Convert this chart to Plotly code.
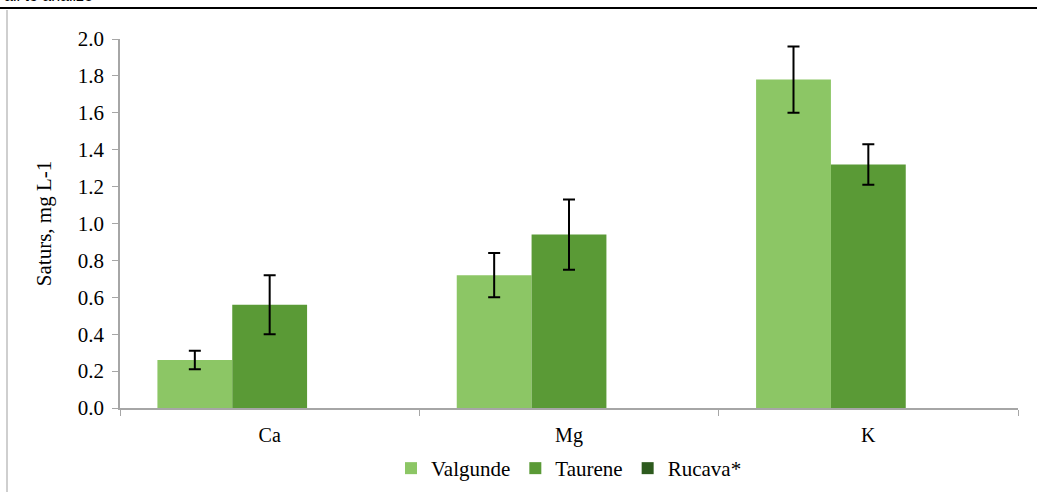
import plotly.graph_objects as go

categories = ["Ca", "Mg", "K"]
series_names = ["Valgunde", "Taurene", "Rucava*"]
valgunde = [0.26, 0.72, 1.78]
valgunde_err = [0.05, 0.12, 0.18]
taurene = [0.56, 0.94, 1.32]
taurene_err = [0.16, 0.19, 0.11]
rucava = [None, None, None]
rucava_err = [None, None, None]
y_ticks = [0.0, 0.2, 0.4, 0.6, 0.8, 1.0, 1.2, 1.4, 1.6, 1.8, 2.0]

colors = ["#8CC665", "#5A9A36", "#2D5A1E"]
values = [valgunde, taurene, rucava]
errors = [valgunde_err, taurene_err, rucava_err]

FONT = "Liberation Serif, Times New Roman, serif"

fig = go.Figure()
for name, vals, errs, col in zip(series_names, values, errors, colors):
    fig.add_trace(go.Bar(
        x=categories, y=vals, name=name,
        marker=dict(color=col, line=dict(width=0)),
        error_y=dict(type="data", array=errs, visible=True,
                     color="black", thickness=2, width=6),
    ))

W, H = 1037, 492
L, R, T, B = 120, 19, 39, 84
pw, ph = W - L - R, H - T - B

def px2x(px):
    return (px - L) / pw

def py2y(py):
    return (H - B - py) / ph

fig.update_layout(
    width=W, height=H, autosize=False,
    margin=dict(l=L, r=R, t=T, b=B, autoexpand=False),
    paper_bgcolor="white", plot_bgcolor="white",
    barmode="group", bargap=0.25, bargroupgap=0,
    font=dict(family=FONT, size=20, color="black"),
    showlegend=True,
    legend=dict(orientation="h", x=0.5, xanchor="center",
                yref="container", y=(H - 448) / H, yanchor="top",
                font=dict(family=FONT, size=21), itemwidth=30, traceorder="normal"),
    xaxis=dict(
        showline=True, linecolor="#A6A6A6", linewidth=1.5, automargin=False,
        ticks="outside", tickson="boundaries", ticklen=6, tickcolor="#A6A6A6",
        tickfont=dict(family=FONT, size=20), showgrid=False, ticklabelstandoff=8,
    ),
    yaxis=dict(
        range=[0, 2.0], tickvals=y_ticks, tickformat=".1f", automargin=False,
        showline=True, linecolor="#A6A6A6", linewidth=1.5,
        ticks="outside", ticklen=6, tickcolor="#A6A6A6", showgrid=False,
        tickfont=dict(family=FONT, size=21), zeroline=False, ticklabelstandoff=4,
        title=dict(text="Saturs, mg L-1", font=dict(family=FONT, size=21), standoff=20),
    ),
    shapes=[
        dict(type="line", xref="paper", yref="paper",
             x0=px2x(0), x1=px2x(W), y0=py2y(8), y1=py2y(8),
             line=dict(color="black", width=2)),
        dict(type="line", xref="paper", yref="paper",
             x0=px2x(7), x1=px2x(7), y0=py2y(10), y1=py2y(H),
             line=dict(color="#BFBFBF", width=1.5)),
    ],
    annotations=[
        dict(text="all to analize", xref="paper", yref="paper",
             x=px2x(2), xanchor="left", y=py2y(6), yanchor="bottom",
             showarrow=False, font=dict(family="Liberation Sans, Arial", size=16, color="black")),
    ],
)

fig.write_html(
    "out.html",
    config={"displayModeBar": False},
    post_script="document.body.style.margin='0';document.body.style.overflow='hidden';",
)
